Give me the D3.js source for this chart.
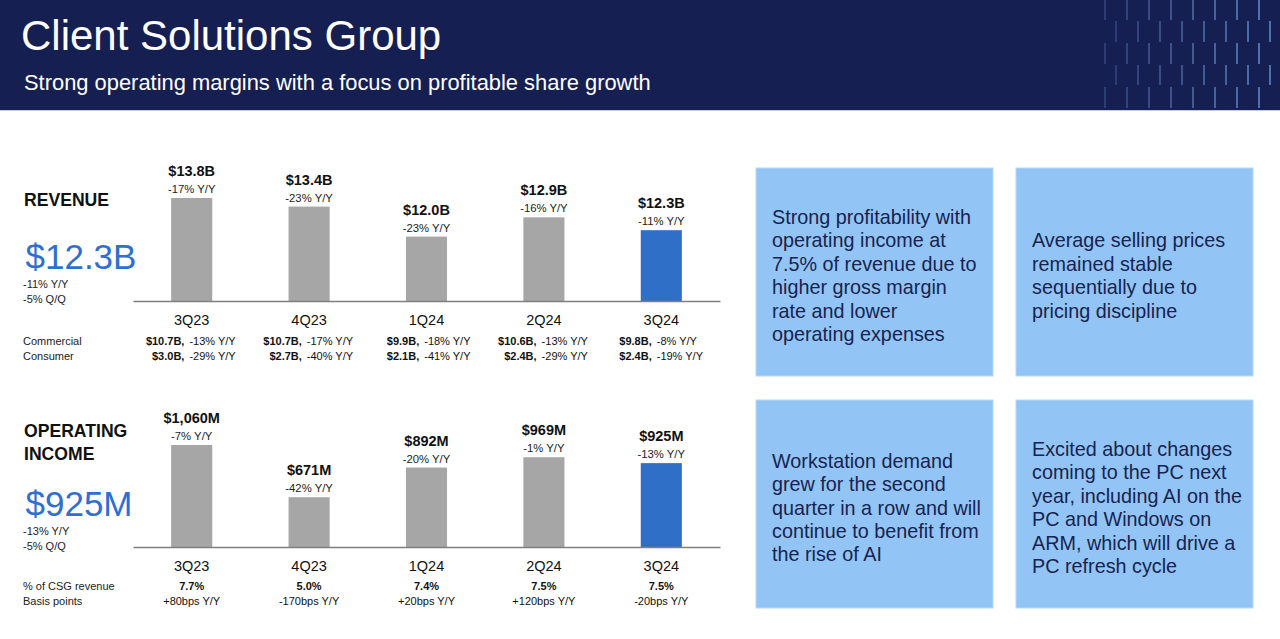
<!DOCTYPE html>
<html>
<head>
<meta charset="utf-8">
<script src="https://cdn.jsdelivr.net/npm/d3@7"></script>
<style>
  body { margin: 0; background: #fff; }
  svg { display: block; font-family: 'Liberation Sans', Arial, sans-serif; }
</style>
</head>
<body>
<div id="chart"></div>
<script>
const quarters = ['3Q23', '4Q23', '1Q24', '2Q24', '3Q24'];

const revenue = [13.8, 13.4, 12.0, 12.9, 12.3];
const revenueLabels = ['$13.8B', '$13.4B', '$12.0B', '$12.9B', '$12.3B'];
const revenueYoY = ['-17% Y/Y', '-23% Y/Y', '-23% Y/Y', '-16% Y/Y', '-11% Y/Y'];
const commercial = ['$10.7B,', '$10.7B,', '$9.9B,', '$10.6B,', '$9.8B,'];
const commercialYoY = ['-13% Y/Y', '-17% Y/Y', '-18% Y/Y', '-13% Y/Y', '-8% Y/Y'];
const consumer = ['$3.0B,', '$2.7B,', '$2.1B,', '$2.4B,', '$2.4B,'];
const consumerYoY = ['-29% Y/Y', '-40% Y/Y', '-41% Y/Y', '-29% Y/Y', '-19% Y/Y'];

const opIncome = [1060, 671, 892, 969, 925];
const opIncomeLabels = ['$1,060M', '$671M', '$892M', '$969M', '$925M'];
const opIncomeYoY = ['-7% Y/Y', '-42% Y/Y', '-20% Y/Y', '-1% Y/Y', '-13% Y/Y'];
const csgShare = ['7.7%', '5.0%', '7.4%', '7.5%', '7.5%'];
const bpsYoY = ['+80bps Y/Y', '-170bps Y/Y', '+20bps Y/Y', '+120bps Y/Y', '-20bps Y/Y'];

const highlights = [
  ['Strong profitability with', 'operating income at', '7.5% of revenue due to', 'higher gross margin', 'rate and lower', 'operating expenses'],
  ['Average selling prices', 'remained stable', 'sequentially due to', 'pricing discipline'],
  ['Workstation demand', 'grew for the second', 'quarter in a row and will', 'continue to benefit from', 'the rise of AI'],
  ['Excited about changes', 'coming to the PC next', 'year, including AI on the', 'PC and Windows on', 'ARM, which will drive a', 'PC refresh cycle']
];

const width = 1280;
const height = 639;
const navy = '#161f52';
const gray = '#a6a6a6';
const blue = '#2f6fc7';
const accent = '#2e6fcf';
const small = 11;

const svg = d3.select('#chart')
  .append('svg')
  .attr('width', width)
  .attr('height', height);

// header band
const header = svg.append('g');
header.append('rect')
  .attr('width', width)
  .attr('height', 110)
  .attr('fill', navy);
header.append('line')
  .attr('x1', 0).attr('x2', width)
  .attr('y1', 110.5).attr('y2', 110.5)
  .attr('stroke', '#c9ccd8');

// decorative dashes in the corner
const dashRows = [
  { y0: 0, y1: 20, x0: 1105 },
  { y0: 21, y1: 42, x0: 1116 },
  { y0: 43, y1: 64, x0: 1105 },
  { y0: 65, y1: 85, x0: 1116 },
  { y0: 87, y1: 108, x0: 1105 }
];
dashRows.forEach((row) => {
  header.selectAll(null)
    .data(d3.range(8))
    .enter()
    .append('rect')
    .attr('x', (i) => row.x0 + i * 22 - 1)
    .attr('y', row.y0)
    .attr('width', 2)
    .attr('height', row.y1 - row.y0)
    .attr('fill', '#5f86c8')
    .attr('opacity', (i) => 0.3 + i * 0.07);
});

header.append('text')
  .attr('x', 21)
  .attr('y', 50)
  .attr('fill', '#fff')
  .attr('font-size', 42)
  .text('Client Solutions Group');

header.append('text')
  .attr('x', 24)
  .attr('y', 90)
  .attr('fill', '#fff')
  .attr('font-size', 21.9)
  .text('Strong operating margins with a focus on profitable share growth');

const x = d3.scaleBand()
  .domain(quarters)
  .range([133, 720])
  .paddingInner(0.65)
  .paddingOuter(0.325);

function drawPanel(cfg) {
  const g = svg.append('g');
  const y = d3.scaleLinear()
    .domain(cfg.domain)
    .range([cfg.baseline, cfg.top]);

  g.selectAll('rect.bar')
    .data(cfg.values)
    .enter()
    .append('rect')
    .attr('class', 'bar')
    .attr('x', (d, i) => x(quarters[i]))
    .attr('y', (d) => y(d))
    .attr('width', x.bandwidth())
    .attr('height', (d) => cfg.baseline - y(d))
    .attr('fill', (d, i) => (i === quarters.length - 1 ? blue : gray));

  const axis = d3.axisBottom(x).tickSize(0).tickPadding(0);
  const axisG = g.append('g')
    .attr('transform', `translate(0,${cfg.baseline})`)
    .call(axis);
  axisG.select('.domain')
    .attr('stroke', '#7f7f7f')
    .attr('stroke-width', 1.5);
  axisG.selectAll('.tick text')
    .attr('dy', null)
    .attr('y', cfg.catOffset)
    .attr('font-size', 14.5)
    .attr('font-family', 'Liberation Sans, Arial, sans-serif')
    .attr('fill', '#111');

  const cx = (i) => x(quarters[i]) + x.bandwidth() / 2;

  g.selectAll('text.val')
    .data(cfg.labels)
    .enter()
    .append('text')
    .attr('x', (d, i) => cx(i))
    .attr('y', (d, i) => y(cfg.values[i]) - 22)
    .attr('text-anchor', 'middle')
    .attr('font-size', 14.5)
    .attr('font-weight', 'bold')
    .attr('fill', '#111')
    .text((d) => d);

  g.selectAll('text.yoy')
    .data(cfg.yoy)
    .enter()
    .append('text')
    .attr('x', (d, i) => cx(i))
    .attr('y', (d, i) => y(cfg.values[i]) - 5)
    .attr('text-anchor', 'middle')
    .attr('font-size', 11.3)
    .attr('fill', '#222')
    .text((d) => d);

  cfg.title.forEach((t, k) => {
    g.append('text')
      .attr('x', 24)
      .attr('y', cfg.titleY + k * 23)
      .attr('font-size', 17.6)
      .attr('font-weight', 'bold')
      .attr('fill', '#111')
      .text(t);
  });

  g.append('text')
    .attr('x', 25.5)
    .attr('y', cfg.bigY)
    .attr('font-size', 35)
    .attr('fill', accent)
    .text(cfg.big);

  cfg.notes.forEach((t, k) => {
    g.append('text')
      .attr('x', 23)
      .attr('y', cfg.bigY + 19 + k * 15)
      .attr('font-size', small)
      .attr('fill', '#222')
      .text(t);
  });

  return { g, cx };
}

const rev = drawPanel({
  values: revenue,
  labels: revenueLabels,
  yoy: revenueYoY,
  domain: [9, 13.8],
  baseline: 301,
  top: 198,
  catOffset: 24,
  title: ['REVENUE'],
  titleY: 206,
  big: '$12.3B',
  bigY: 269,
  notes: ['-11% Y/Y', '-5% Q/Q']
});

const op = drawPanel({
  values: opIncome,
  labels: opIncomeLabels,
  yoy: opIncomeYoY,
  domain: [300, 1060],
  baseline: 547,
  top: 445,
  catOffset: 24,
  title: ['OPERATING', 'INCOME'],
  titleY: 437,
  big: '$925M',
  bigY: 516,
  notes: ['-13% Y/Y', '-5% Q/Q']
});

// revenue mix rows
function mixRow(label, yPos, amounts, changes) {
  rev.g.append('text')
    .attr('x', 23)
    .attr('y', yPos)
    .attr('font-size', small)
    .attr('fill', '#222')
    .text(label);
  const last = quarters.length - 1;
  const t = rev.g.selectAll(null)
    .data(amounts)
    .enter()
    .append('text')
    .attr('x', (d, i) => (i === last ? rev.cx(i) - 42 : rev.cx(i) + 44))
    .attr('y', yPos)
    .attr('text-anchor', (d, i) => (i === last ? 'start' : 'end'))
    .attr('font-size', small)
    .attr('fill', '#111');
  t.append('tspan')
    .attr('font-weight', 'bold')
    .text((d) => d);
  t.append('tspan')
    .attr('dx', 5)
    .text((d, i) => changes[i]);
}
mixRow('Commercial', 345, commercial, commercialYoY);
mixRow('Consumer', 360, consumer, consumerYoY);

// margin rows
function marginRow(label, yPos, values, bold) {
  op.g.append('text')
    .attr('x', 23)
    .attr('y', yPos)
    .attr('font-size', small)
    .attr('fill', '#222')
    .text(label);
  op.g.selectAll(null)
    .data(values)
    .enter()
    .append('text')
    .attr('x', (d, i) => op.cx(i))
    .attr('y', yPos)
    .attr('text-anchor', 'middle')
    .attr('font-size', small)
    .attr('font-weight', bold ? 'bold' : 'normal')
    .attr('fill', '#111')
    .text((d) => d);
}
marginRow('% of CSG revenue', 590, csgShare, true);
marginRow('Basis points', 605, bpsYoY, false);

// highlight boxes
const boxX = [756, 1016];
const boxY = [168, 400];
const boxW = 237;
const boxH = 208;
const lineH = 23.4;

const boxes = svg.selectAll('g.box')
  .data(highlights)
  .enter()
  .append('g')
  .attr('class', 'box')
  .attr('transform', (d, i) => `translate(${boxX[i % 2]},${boxY[Math.floor(i / 2)]})`);

boxes.append('rect')
  .attr('width', boxW)
  .attr('height', boxH)
  .attr('fill', '#92c5f6')
  .attr('stroke', '#b5d8fa')
  .attr('stroke-width', 1);

boxes.each(function (lines) {
  const first = boxH / 2 - (lines.length - 1) * lineH / 2 + 10.5;
  d3.select(this).selectAll('text')
    .data(lines)
    .enter()
    .append('text')
    .attr('x', 16)
    .attr('y', (d, k) => first + k * lineH)
    .attr('font-size', 19.8)
    .attr('fill', '#18234f')
    .text((d) => d);
});
</script>
</body>
</html>
